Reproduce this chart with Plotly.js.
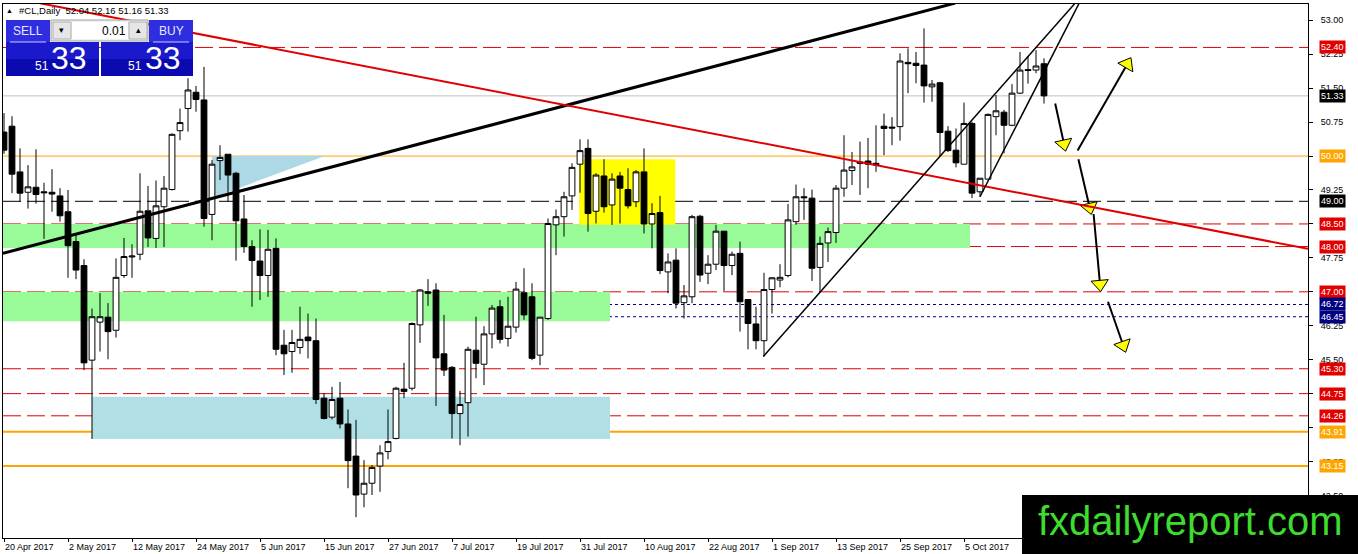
<!DOCTYPE html>
<html><head><meta charset="utf-8">
<script src="https://cdn.plot.ly/plotly-3.0.1.min.js"></script>
<style>html,body{margin:0;padding:0;background:#fff;overflow:hidden}#chart{width:1358px;height:554px}</style>
</head><body><div id="chart"></div>
<script>
// ---- data ----
const dates = [
'2017-04-20','2017-04-21','2017-04-24','2017-04-25','2017-04-26','2017-04-27','2017-04-28',
'2017-05-01','2017-05-02','2017-05-03','2017-05-04','2017-05-05','2017-05-08','2017-05-09','2017-05-10','2017-05-11','2017-05-12','2017-05-15','2017-05-16','2017-05-17','2017-05-18','2017-05-19','2017-05-22','2017-05-23','2017-05-24','2017-05-25','2017-05-26','2017-05-29','2017-05-30','2017-05-31',
'2017-06-01','2017-06-02','2017-06-05','2017-06-06','2017-06-07','2017-06-08','2017-06-09','2017-06-12','2017-06-13','2017-06-14','2017-06-15','2017-06-16','2017-06-19','2017-06-20','2017-06-21','2017-06-22','2017-06-23','2017-06-26','2017-06-27','2017-06-28','2017-06-29','2017-06-30',
'2017-07-03','2017-07-04','2017-07-05','2017-07-06','2017-07-07','2017-07-10','2017-07-11','2017-07-12','2017-07-13','2017-07-14','2017-07-17','2017-07-18','2017-07-19','2017-07-20','2017-07-21','2017-07-24','2017-07-25','2017-07-26','2017-07-27','2017-07-28','2017-07-31',
'2017-08-01','2017-08-02','2017-08-03','2017-08-04','2017-08-07','2017-08-08','2017-08-09','2017-08-10','2017-08-11','2017-08-14','2017-08-15','2017-08-16','2017-08-17','2017-08-18','2017-08-21','2017-08-22','2017-08-23','2017-08-24','2017-08-25','2017-08-28','2017-08-29','2017-08-30','2017-08-31',
'2017-09-01','2017-09-04','2017-09-05','2017-09-06','2017-09-07','2017-09-08','2017-09-11','2017-09-12','2017-09-13','2017-09-14','2017-09-15','2017-09-18','2017-09-19','2017-09-20','2017-09-21','2017-09-22','2017-09-25','2017-09-26','2017-09-27','2017-09-28','2017-09-29',
'2017-10-02','2017-10-03','2017-10-04','2017-10-05','2017-10-06','2017-10-09','2017-10-10','2017-10-11','2017-10-12','2017-10-13','2017-10-16','2017-10-17','2017-10-18','2017-10-19'];

const openP = [50.53,50.66,49.65,49.20,49.31,49.21,49.20,49.12,48.77,48.11,47.58,45.49,46.33,46.44,46.15,47.36,47.77,47.83,48.79,48.18,
48.88,49.26,50.56,51.05,51.41,51.24,48.71,49.90,50.04,49.62,48.61,48.00,47.68,47.36,47.96,45.82,45.68,45.77,46.00,45.92,
44.65,44.23,44.65,44.08,43.37,42.53,42.77,43.15,43.47,43.76,44.85,44.87,46.27,47.00,47.04,45.63,45.33,44.31,44.55,45.71,
45.40,46.07,46.67,45.97,46.22,46.98,46.89,45.60,46.41,48.48,48.66,49.12,49.82,50.17,48.78,49.56,48.92,49.56,49.26,48.99,
49.65,48.50,48.75,47.44,47.70,46.76,46.89,48.67,47.41,47.61,48.34,47.58,47.85,46.83,46.29,45.92,47.05,47.26,47.36,48.55,
49.10,49.07,47.54,48.08,48.31,49.29,49.68,49.87,49.89,49.84,50.66,50.64,50.65,52.07,52.05,52.01,51.53,51.62,50.55,50.13,
49.82,50.72,49.21,49.49,50.87,50.97,50.68,51.39,51.91,51.90,52.04];
const highP = [50.95,50.88,50.17,49.80,50.15,49.41,49.71,49.29,49.25,48.25,47.72,46.63,46.97,46.75,47.74,48.19,48.05,49.62,49.34,49.46,
49.56,50.50,51.05,51.72,51.55,51.97,49.91,50.24,50.04,49.65,49.14,48.14,48.38,48.37,48.18,46.16,46.16,46.67,46.52,46.41,
44.76,44.90,45.01,44.40,44.17,43.28,43.17,43.61,44.40,44.90,45.43,46.32,47.06,47.28,47.19,46.49,45.36,44.81,45.79,46.45,
46.24,46.71,46.82,46.89,47.22,47.52,47.19,46.44,48.62,48.82,49.21,49.84,50.37,50.37,49.62,49.93,49.62,49.65,49.73,49.69,
50.17,48.96,49.12,47.85,47.96,47.15,48.70,48.70,47.81,48.48,48.34,47.89,48.11,46.83,46.67,47.42,47.32,47.61,48.94,49.37,
49.29,49.26,48.22,48.42,49.36,50.46,50.09,50.32,50.40,50.68,50.94,50.86,52.27,52.38,52.30,52.82,51.68,51.64,50.66,50.61,
51.18,50.76,49.51,50.94,51.35,51.02,51.59,52.30,52.21,52.34,52.16];
const lowP = [50.05,49.18,48.99,48.84,48.95,48.17,48.77,48.55,47.31,47.28,45.27,43.75,45.68,45.51,45.99,47.31,47.31,47.70,47.99,47.97,
47.99,49.24,50.35,50.54,50.98,48.44,48.14,49.47,48.99,47.69,47.86,46.67,46.82,46.89,45.60,45.16,45.21,45.63,45.53,44.52,
44.18,44.18,43.98,42.66,42.02,42.24,42.51,42.58,43.30,43.74,44.65,44.82,45.87,46.69,44.48,45.14,43.76,43.61,43.80,45.09,
44.94,45.75,45.86,45.79,46.10,46.38,45.49,45.38,46.38,47.81,48.22,48.81,49.19,48.33,48.51,48.75,48.48,48.51,48.84,48.87,
48.29,47.96,47.39,46.97,46.63,46.41,46.75,47.22,47.17,47.48,47.02,47.37,46.12,45.73,45.73,45.57,46.52,47.10,47.32,48.48,
48.59,47.24,46.98,47.66,48.08,49.10,49.36,49.14,49.29,49.65,50.02,50.24,50.34,51.39,51.61,51.18,51.20,50.00,50.09,49.75,
49.82,49.07,49.10,49.49,50.46,50.06,50.66,51.37,51.60,51.83,51.16];
const closeP = [50.13,49.60,49.18,49.32,49.15,49.19,49.16,48.68,48.02,47.48,45.43,46.45,46.45,46.12,47.32,47.78,47.79,48.78,48.19,48.90,
49.29,50.48,50.74,51.46,51.25,48.62,49.82,49.97,49.58,48.57,48.00,47.69,47.36,47.94,45.73,45.63,45.88,45.95,45.92,44.62,
44.20,44.62,44.08,43.27,42.51,42.77,43.12,43.44,43.69,44.87,44.80,46.30,47.04,46.97,45.54,45.27,44.31,44.51,45.73,45.42,
46.07,46.64,45.95,46.24,47.06,46.49,45.53,46.44,48.51,48.66,49.10,49.75,50.12,48.73,49.58,48.88,49.49,49.29,48.90,49.65,
48.50,48.73,47.47,47.66,46.75,46.91,48.66,47.37,47.61,48.34,47.58,47.83,46.78,46.30,45.92,47.05,47.31,47.32,48.59,49.10,
49.08,47.52,48.07,48.33,49.29,49.69,49.76,49.84,49.82,49.80,50.61,50.62,52.10,52.04,52.00,51.55,51.59,50.52,50.12,49.85,
50.72,49.18,49.51,50.92,51.00,50.68,51.39,51.90,51.89,51.99,51.33];

const xTickDates = ['2017-04-20','2017-05-02','2017-05-12','2017-05-24','2017-06-05','2017-06-15','2017-06-27','2017-07-07',
'2017-07-19','2017-07-31','2017-08-10','2017-08-22','2017-09-01','2017-09-13','2017-09-25','2017-10-05'];
const xTickText = ['20 Apr 2017','2 May 2017','12 May 2017','24 May 2017','5 Jun 2017','15 Jun 2017','27 Jun 2017','7 Jul 2017',
'19 Jul 2017','31 Jul 2017','10 Aug 2017','22 Aug 2017','1 Sep 2017','13 Sep 2017','25 Sep 2017','5 Oct 2017'];
const yTicks = [42.50,43.25,44.00,44.75,45.50,46.25,47.00,47.75,48.50,49.25,50.00,50.75,51.50,52.25,53.00];
const yTicksCovered = [44.00,44.75,47.00,48.50,50.00]; // hidden under the price tags in the reference

const redLevels = [52.40,48.50,48.00,47.00,45.30,44.75,44.26];
const bidLevel = 51.33;
const pivotLevel = 49.00;
const keyLevel = 50.00;
const orangeLevels = [43.91,43.15];
const dottedLevels = [46.72,46.45];
const titleText = '#CL,Daily\u00a0\u00a052.04 52.16 51.16 51.33';

// ---- styling / layout ----
const FONT = 'Liberation Sans, Arial, sans-serif';
const RED = '#e00000', ORANGE = '#ffa500', NAVY = '#000080';
const XR = [-0.125, 163], YR = [41.56, 53.36];
const W = 1358, H = 554, ML = 3, MR = 50, MT = 4, MB = 16;
const PX = px => (px - ML) / (W - ML - MR);
const PY = py => (H - MB - py) / (H - MT - MB);

const shapes = [];
// zones (below candles)
shapes.push({type:'rect', xref:'x2', yref:'y', x0:-1, x1:120.75, y0:47.97, y1:48.50, fillcolor:'#98fb98', line:{width:0}, layer:'below'});
shapes.push({type:'rect', xref:'x2', yref:'y', x0:-1, x1:75.75, y0:46.35, y1:47.00, fillcolor:'#98fb98', line:{width:0}, layer:'below'});
shapes.push({type:'rect', xref:'x2', yref:'y', x0:11, x1:75.75, y0:43.75, y1:44.68, fillcolor:'#b0e0e6', line:{width:0}, layer:'below'});
shapes.push({type:'rect', xref:'x2', yref:'y', x0:71.9, x1:83.9, y0:48.48, y1:49.93, fillcolor:'#ffff00', line:{width:0}, layer:'below'});
shapes.push({type:'path', xref:'x2', yref:'y', path:'M26,50.0 L40.1,50.0 L26.1,49.08 Z', fillcolor:'#add8e6', line:{width:0}, layer:'below'});
// horizontal levels
function hline(p, color, width, dash){ return {type:'line', xref:'paper', x0:0, x1:1, yref:'y', y0:p, y1:p, line:{color:color, width:width, dash:dash}, layer:'below'}; }
redLevels.forEach(p => shapes.push(hline(p, RED, 1, '18px,6px')));
shapes.push(hline(bidLevel, '#c0c0c0', 1, 'solid'));
shapes.push(hline(pivotLevel, '#000', 1, '18px,6px'));
shapes.push(hline(keyLevel, ORANGE, 1, 'solid'));
orangeLevels.forEach(p => shapes.push(hline(p, ORANGE, 2, 'solid')));
dottedLevels.forEach(p => shapes.push(hline(p, NAVY, 1, '3px,3px')));
// trend lines (above candles)
shapes.push({type:'line', xref:'x2', yref:'y', x0:-0.125, y0:47.85, x1:118.9, y1:53.38, line:{color:'#000', width:3}});
shapes.push({type:'line', xref:'x2', yref:'y', x0:4.5, y0:53.376, x1:163, y1:47.95, line:{color:RED, width:2}});
shapes.push({type:'line', xref:'x2', yref:'y', x0:94.91, y0:45.57, x1:133.9, y1:53.38, line:{color:'#000', width:1.5}});
shapes.push({type:'line', xref:'x2', yref:'y', x0:122, y0:49.10, x1:134.4, y1:53.38, line:{color:'#000', width:1.5}});
// trade panel
function prect(x0,y0,x1,y1,fill,lc,lw){ return {type:'rect', xref:'paper', yref:'paper', x0:PX(x0), x1:PX(x1), y0:PY(y1), y1:PY(y0), fillcolor:fill, line:{color:lc||fill, width:lw===undefined?0:lw}, layer:'above'}; }
shapes.push(prect(6,20,50,42,'#2e2ee0'));
shapes.push(prect(149,20,193,42,'#2e2ee0'));
shapes.push(prect(6,42,99,59,'#1a1acc'));
shapes.push(prect(6,59,99,76,'#0a0ab0'));
shapes.push(prect(101,42,193,59,'#1a1acc'));
shapes.push(prect(101,59,193,76,'#0a0ab0'));
shapes.push(prect(51,20,148,41,'#f0f0f0','#a0a0a0',1));
shapes.push(prect(53,22,71,39,'#e6e6e6','#b0b0b0',1));
shapes.push(prect(72,22,128,39,'#ffffff','#ffffff',0));
shapes.push(prect(129,22,147,39,'#e6e6e6','#b0b0b0',1));
shapes.push({type:'line', xref:'paper', yref:'paper', x0:PX(10), x1:PX(46), y0:PY(42), y1:PY(42), line:{color:'#c8c8ff', width:1}, layer:'above'});
shapes.push({type:'line', xref:'paper', yref:'paper', x0:PX(153), x1:PX(189), y0:PY(42), y1:PY(42), line:{color:'#c8c8ff', width:1}, layer:'above'});
// watermark box
shapes.push(prect(1022,495,1358,554,'#000000'));

const annotations = [];
function tag(p, bg){ annotations.push({xref:'paper', x:1, xanchor:'left', xshift:11, yref:'y', y:p, text:p.toFixed(2), showarrow:false, bgcolor:bg, borderpad:1, font:{family:FONT, size:9, color:'#fff'}}); }
redLevels.forEach(p => tag(p, RED));
tag(bidLevel, '#000');
tag(pivotLevel, '#000');
tag(keyLevel, ORANGE);
orangeLevels.forEach(p => tag(p, ORANGE));
dottedLevels.forEach(p => tag(p, NAVY));
function ptext(x, y, text, size, color, anchor){ annotations.push({xref:'paper', yref:'paper', x:PX(x), y:PY(y), xanchor:anchor||'center', yanchor:'middle', text:text, showarrow:false, font:{family:FONT, size:size, color:color}}); }
ptext(9, 10, '\u25b2', 7, '#000');
ptext(17, 10, titleText, 9.5, '#000', 'left');
ptext(28, 31, 'SELL', 12, '#e8e8ff');
ptext(171, 31, 'BUY', 12, '#e8e8ff');
ptext(128, 31, '0.01', 12, '#000', 'right');
ptext(62, 30, '\u25be', 9, '#000');
ptext(138, 30, '\u25b4', 9, '#000');
ptext(42, 66, '51', 12, '#fff');
ptext(69, 58, '33', 32, '#fff');
ptext(135, 66, '51', 12, '#fff');
ptext(163, 58, '33', 32, '#fff');
ptext(1190, 521, 'fxdailyreport.com', 40, '#3ddc2e');

const traces = [{
  type:'candlestick', x:dates, open:openP, high:highP, low:lowP, close:closeP,
  increasing:{line:{color:'#000', width:1}, fillcolor:'#ffffff'},
  decreasing:{line:{color:'#000', width:1}, fillcolor:'#000000'},
  whiskerwidth:0, showlegend:false, hoverinfo:'skip'
}];
// forecast arrows: [tailIndex, tailPrice, headIndex, headPrice]
const arrows = [[131.4,51.16,132.5,50.27],[134.2,50.12,140.4,52.03],[134.3,49.93,135.7,48.87],[136.2,48.72,137.0,47.17],[138.0,46.78,139.9,45.82]];
arrows.forEach(a => traces.push({
  type:'scatter', xaxis:'x2', yaxis:'y', x:[a[0],a[2]], y:[a[1],a[3]], mode:'lines+markers',
  line:{color:'#000', width:2},
  marker:{symbol:'triangle-up', size:[1,15], opacity:[0,1], color:'#ffff00', line:{color:'#000', width:1}, angleref:'previous'},
  showlegend:false, hoverinfo:'skip'
}));

const layout = {
  width:W, height:H, margin:{l:ML, r:MR, t:MT, b:MB, pad:0},
  paper_bgcolor:'#fff', plot_bgcolor:'#fff', showlegend:false,
  boxgap:0.15, boxgroupgap:0.15,
  font:{family:FONT, size:9, color:'#000'},
  xaxis:{type:'category', range:XR, tickvals:xTickDates, ticktext:xTickText, ticks:'outside', ticklen:3, tickcolor:'#000',
    ticklabelposition:'outside right', showline:true, linecolor:'#000', linewidth:1, mirror:true, showgrid:false, zeroline:false,
    rangeslider:{visible:false}, tickfont:{family:FONT, size:9, color:'#000'}, fixedrange:true},
  xaxis2:{overlaying:'x', range:XR, visible:false, fixedrange:true},
  yaxis:{side:'right', range:YR, tickvals:yTicks,
    ticktext:yTicks.map(v => yTicksCovered.includes(v) ? '' : v.toFixed(2)),
    ticks:'outside', ticklen:4, tickcolor:'#000', ticklabelstandoff:6,
    showline:true, linecolor:'#000', linewidth:1, mirror:true, showgrid:false, zeroline:false,
    tickfont:{family:FONT, size:9, color:'#000'}, fixedrange:true},
  shapes:shapes, annotations:annotations
};
Plotly.newPlot('chart', traces, layout, {staticPlot:true, displayModeBar:false});
</script></body></html>
